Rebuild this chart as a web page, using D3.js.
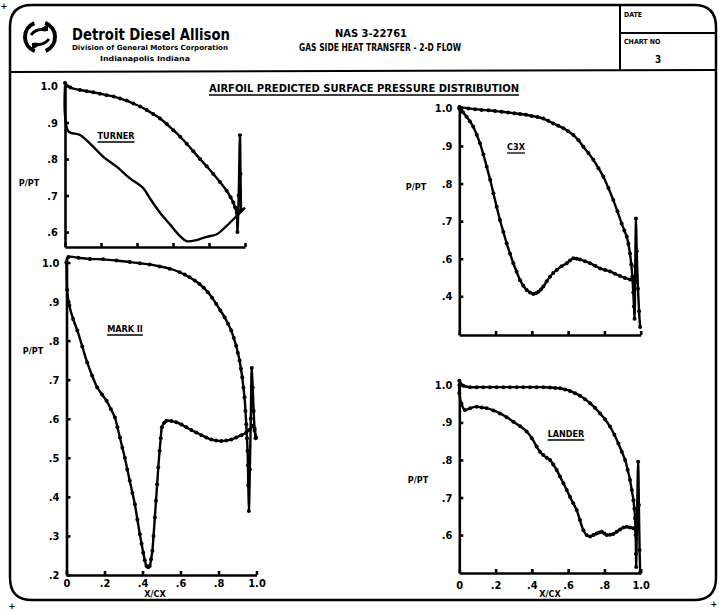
<!DOCTYPE html>
<html>
<head>
<meta charset="utf-8">
<script src="https://cdn.jsdelivr.net/npm/d3@7"></script>
<style>
  body { margin: 0; background: #fff; }
  svg text { font-family: 'DejaVu Sans Condensed', 'Liberation Sans Narrow', sans-serif; font-weight: bold; fill: #000; }
</style>
</head>
<body>
<svg id="chart"></svg>
<script>
// ---- data: [X/CX, P/PT] ----
var xTicks = [0, 0.2, 0.4, 0.6, 0.8, 1.0];
var xTickLabels = ["0", ".2", ".4", ".6", ".8", "1.0"];

var turnerTicks = [1.0, 0.9, 0.8, 0.7, 0.6];
var turnerLabels = ["1.0", ".9", ".8", ".7", ".6"];
var markTicks = [1.0, 0.9, 0.8, 0.7, 0.6, 0.5, 0.4, 0.3, 0.2];
var markLabels = ["1.0", ".9", ".8", ".7", ".6", ".5", ".4", ".3", ".2"];
var c3xTicks = [1.0, 0.9, 0.8, 0.7, 0.6, 0.5];
var c3xLabels = ["1.0", ".9", ".8", ".7", ".6", ".4"];   // printed this way on the original
var landerTicks = [1.0, 0.9, 0.8, 0.7, 0.6];
var landerLabels = ["1.0", ".9", ".8", ".7", ".6"];

// pressure side (upper curve, incl. trailing edge spike) and suction side (lower curve)
var turnerPS = [[0,1.008],[0.03,0.996],[0.083,0.989],[0.12,0.986],[0.157,0.983],[0.194,0.979],[0.231,0.975],
  [0.27,0.971],[0.306,0.966],[0.343,0.96],[0.38,0.952],[0.417,0.944],[0.454,0.934],[0.49,0.923],[0.528,0.911],
  [0.565,0.896],[0.602,0.879],[0.64,0.861],[0.676,0.842],[0.713,0.821],[0.75,0.8],[0.787,0.78],[0.824,0.759],
  [0.861,0.737],[0.898,0.713],[0.92,0.695],[0.935,0.681],[0.945,0.667],[0.954,0.653],[0.958,0.6],[0.965,0.7],
  [0.972,0.865],[0.975,0.76],[0.978,0.66]];
var turnerSS = [[0,1.0],[0,0.92],[0.02,0.875],[0.083,0.866],[0.148,0.838],[0.213,0.806],[0.287,0.779],
  [0.361,0.747],[0.435,0.72],[0.472,0.692],[0.528,0.653],[0.583,0.621],[0.639,0.589],[0.676,0.575],
  [0.731,0.578],[0.787,0.587],[0.843,0.594],[0.898,0.617],[0.954,0.644],[1.0,0.667]];

var markPS = [[0,1.0],[0.01,1.014],[0.062,1.012],[0.123,1.009],[0.193,1.008],[0.263,1.005],[0.333,1.001],
  [0.386,0.998],[0.438,0.995],[0.49,0.99],[0.543,0.984],[0.596,0.975],[0.622,0.969],[0.648,0.962],
  [0.675,0.954],[0.7,0.945],[0.722,0.935],[0.744,0.924],[0.766,0.91],[0.788,0.894],[0.81,0.877],
  [0.832,0.86],[0.85,0.843],[0.867,0.826],[0.88,0.807],[0.893,0.787],[0.902,0.768],[0.911,0.749],
  [0.918,0.728],[0.925,0.706],[0.931,0.68],[0.937,0.655],[0.942,0.62],[0.946,0.586],[0.95,0.55],
  [0.953,0.518],[0.955,0.48],[0.957,0.43],[0.96,0.364],[0.965,0.47],[0.97,0.6],[0.975,0.73],
  [0.98,0.68],[0.985,0.62],[0.99,0.575],[0.995,0.55]];
var markSS = [[0,1.0],[0.003,0.93],[0.015,0.89],[0.035,0.855],[0.057,0.826],[0.083,0.785],[0.109,0.744],
  [0.135,0.71],[0.162,0.68],[0.187,0.662],[0.211,0.646],[0.233,0.625],[0.255,0.603],[0.268,0.578],
  [0.281,0.552],[0.294,0.526],[0.307,0.5],[0.32,0.47],[0.333,0.441],[0.347,0.41],[0.36,0.381],
  [0.373,0.342],[0.386,0.304],[0.395,0.28],[0.404,0.257],[0.412,0.238],[0.421,0.223],[0.43,0.22],
  [0.438,0.223],[0.445,0.24],[0.452,0.262],[0.458,0.3],[0.465,0.347],[0.471,0.39],[0.477,0.432],
  [0.483,0.475],[0.49,0.518],[0.496,0.55],[0.502,0.578],[0.514,0.59],[0.526,0.595],[0.552,0.594],
  [0.578,0.591],[0.605,0.585],[0.631,0.578],[0.657,0.571],[0.683,0.565],[0.71,0.558],[0.736,0.552],
  [0.762,0.547],[0.788,0.544],[0.815,0.543],[0.841,0.544],[0.867,0.547],[0.893,0.552],[0.92,0.558],
  [0.946,0.565],[0.963,0.572],[0.98,0.582],[0.99,0.57],[0.998,0.552]];

var c3xPS = [[0,1.004],[0.05,1.0],[0.087,0.998],[0.123,0.996],[0.16,0.995],[0.197,0.993],[0.233,0.991],
  [0.27,0.989],[0.303,0.987],[0.335,0.985],[0.367,0.983],[0.399,0.98],[0.431,0.977],[0.463,0.973],
  [0.49,0.967],[0.518,0.96],[0.546,0.954],[0.574,0.947],[0.6,0.939],[0.629,0.929],[0.657,0.915],
  [0.684,0.898],[0.712,0.881],[0.739,0.863],[0.767,0.841],[0.794,0.818],[0.822,0.788],[0.849,0.756],
  [0.872,0.726],[0.895,0.694],[0.91,0.675],[0.923,0.659],[0.932,0.64],[0.941,0.614],[0.948,0.585],
  [0.954,0.552],[0.959,0.51],[0.963,0.473],[0.966,0.44],[0.97,0.58],[0.974,0.707],[0.978,0.62],
  [0.985,0.52],[0.991,0.46],[0.997,0.418]];
var c3xSS = [[0,1.0],[0.02,0.99],[0.04,0.978],[0.058,0.966],[0.077,0.951],[0.096,0.93],[0.114,0.907],
  [0.133,0.877],[0.151,0.845],[0.17,0.81],[0.188,0.774],[0.206,0.738],[0.224,0.703],[0.243,0.671],
  [0.261,0.641],[0.28,0.613],[0.298,0.588],[0.316,0.565],[0.335,0.543],[0.353,0.528],[0.371,0.517],
  [0.39,0.51],[0.408,0.506],[0.422,0.508],[0.436,0.512],[0.45,0.518],[0.463,0.526],[0.482,0.54],
  [0.5,0.552],[0.518,0.562],[0.537,0.57],[0.564,0.58],[0.592,0.588],[0.61,0.595],[0.629,0.601],
  [0.647,0.6],[0.665,0.598],[0.693,0.593],[0.721,0.588],[0.749,0.581],[0.776,0.574],[0.804,0.57],
  [0.831,0.566],[0.858,0.56],[0.886,0.554],[0.913,0.549],[0.941,0.545],[0.96,0.542],[0.978,0.539]];

var landerPS = [[0,1.011],[0.022,0.998],[0.059,0.994],[0.096,0.994],[0.132,0.994],[0.169,0.994],[0.206,0.994],
  [0.243,0.994],[0.279,0.994],[0.316,0.994],[0.353,0.994],[0.39,0.994],[0.426,0.994],[0.463,0.994],
  [0.5,0.993],[0.528,0.992],[0.555,0.991],[0.583,0.988],[0.61,0.984],[0.638,0.978],[0.665,0.971],
  [0.693,0.962],[0.721,0.951],[0.748,0.939],[0.776,0.924],[0.804,0.908],[0.831,0.889],[0.855,0.867],
  [0.877,0.844],[0.896,0.822],[0.914,0.8],[0.928,0.774],[0.941,0.747],[0.951,0.72],[0.96,0.693],
  [0.965,0.67],[0.969,0.645],[0.972,0.6],[0.974,0.55],[0.975,0.515],[0.98,0.65],[0.986,0.795],
  [0.99,0.68],[0.994,0.56],[0.997,0.5]];
var landerSS = [[0,1.0],[0,0.978],[0.012,0.95],[0.031,0.933],[0.06,0.938],[0.096,0.942],[0.123,0.94],
  [0.151,0.938],[0.188,0.932],[0.224,0.924],[0.261,0.914],[0.298,0.902],[0.335,0.89],[0.371,0.876],
  [0.4,0.858],[0.426,0.836],[0.445,0.822],[0.463,0.813],[0.482,0.806],[0.5,0.8],[0.518,0.788],
  [0.537,0.773],[0.555,0.756],[0.574,0.738],[0.592,0.72],[0.61,0.702],[0.628,0.685],[0.647,0.667],
  [0.665,0.64],[0.684,0.613],[0.702,0.6],[0.721,0.596],[0.739,0.6],[0.757,0.604],[0.771,0.607],
  [0.785,0.609],[0.8,0.604],[0.813,0.6],[0.831,0.601],[0.849,0.603],[0.868,0.609],[0.886,0.615],
  [0.905,0.62],[0.923,0.622],[0.941,0.62],[0.96,0.618],[0.975,0.61]];

// ---- page ----
var svgWidth = 719;
var svgHeight = 611;

var svg = d3.select("#chart")
  .attr("width", svgWidth)
  .attr("height", svgHeight);

// drawing sheet frame with rounded corners
var fL = 10, fR = 716, fT = 5, fB = 600, rad = 22;
svg.append("path")
  .attr("d", `M${fL},${fT + rad} Q${fL},${fT} ${fL + rad},${fT} H${fR - rad} Q${fR},${fT} ${fR},${fT + rad}
    V${fB - rad} Q${fR},${fB} ${fR - rad},${fB} H${fL + rad} Q${fL},${fB} ${fL},${fB - rad} Z`)
  .attr("fill", "none")
  .attr("stroke", "#000")
  .attr("stroke-width", 2.5);

// header separators
svg.append("line").attr("x1", fL).attr("y1", 72).attr("x2", fR).attr("y2", 70)
  .attr("stroke", "#000").attr("stroke-width", 2);
svg.append("line").attr("x1", 620).attr("y1", fT).attr("x2", 620).attr("y2", 70)
  .attr("stroke", "#000").attr("stroke-width", 2);
svg.append("line").attr("x1", 620).attr("y1", 33).attr("x2", fR).attr("y2", 33)
  .attr("stroke", "#000").attr("stroke-width", 2);

svg.append("text").attr("x", 624).attr("y", 17).attr("font-size", 7).text("DATE");
svg.append("text").attr("x", 624).attr("y", 44).attr("font-size", 7).text("CHART NO");
svg.append("text").attr("x", 655).attr("y", 63).attr("font-size", 10).text("3");

// corner registration marks
[[4, 6], [12, 606], [714, 604]].forEach(function (p) {
  svg.append("text").attr("x", p[0]).attr("y", p[1]).attr("font-size", 9)
    .attr("text-anchor", "middle").attr("dy", "0.35em").text("+");
});

// logo: ring with two chasing arrows
var logo = svg.append("g").attr("transform", "translate(40,37)");
var arcGen = d3.arc().innerRadius(13).outerRadius(17);
logo.append("path").attr("d", arcGen({ startAngle: 0.35, endAngle: 2.75 }));
logo.append("path").attr("d", arcGen({ startAngle: 3.5, endAngle: 5.9 }));
logo.append("path").attr("d", "M-3,-6 L8,-6 L8,-13 Z M3,6 L-8,6 L-8,13 Z");
logo.append("path").attr("d", "M-9,-2 Q-4,-9 6,-7 M9,2 Q4,9 -6,7")
  .attr("fill", "none").attr("stroke", "#000").attr("stroke-width", 3);

svg.append("text").attr("x", 72).attr("y", 40).attr("font-size", 15)
  .attr("textLength", 158).attr("lengthAdjust", "spacingAndGlyphs").text("Detroit Diesel Allison");
svg.append("text").attr("x", 72).attr("y", 50).attr("font-size", 7)
  .attr("textLength", 156).attr("lengthAdjust", "spacingAndGlyphs").text("Division of General Motors Corporation");
svg.append("text").attr("x", 100).attr("y", 61).attr("font-size", 7)
  .attr("textLength", 90).attr("lengthAdjust", "spacingAndGlyphs").text("Indianapolis Indiana");

svg.append("text").attr("x", 371).attr("y", 37).attr("font-size", 11).attr("text-anchor", "middle")
  .attr("font-weight", "normal").text("NAS 3-22761");
svg.append("text").attr("x", 380).attr("y", 51).attr("font-size", 11).attr("text-anchor", "middle")
  .attr("textLength", 162).attr("lengthAdjust", "spacingAndGlyphs").text("GAS SIDE HEAT TRANSFER - 2-D FLOW");

// chart title, underlined
svg.append("text").attr("x", 364).attr("y", 92).attr("font-size", 10).attr("text-anchor", "middle")
  .attr("textLength", 310).attr("lengthAdjust", "spacingAndGlyphs")
  .text("AIRFOIL PREDICTED SURFACE PRESSURE DISTRIBUTION");
svg.append("line").attr("x1", 209).attr("x2", 519).attr("y1", 95).attr("y2", 95)
  .attr("stroke", "#000").attr("stroke-width", 1.5);

// ---- one panel per airfoil ----
var panels = [
  { name: "TURNER", ps: turnerPS, ss: turnerSS, ssDots: false, x0: 65, x1: 245,
    yDomain: [0.559, 1.011], yRange: [247, 82], yTicks: turnerTicks, yLabels: turnerLabels,
    xLabels: null, label: [116, 139], pLabel: [29, 186] },
  { name: "MARK II", ps: markPS, ss: markSS, ssDots: true, x0: 66.5, x1: 256.5,
    yDomain: [0.2, 1.014], yRange: [575, 257], yTicks: markTicks, yLabels: markLabels,
    xLabels: xTickLabels, xPad: 4, xTitle: [155, 597], label: [125, 332], pLabel: [33, 354] },
  { name: "C3X", ps: c3xPS, ss: c3xSS, ssDots: true, x0: 459.3, x1: 640.7,
    yDomain: [0.397, 1.009], yRange: [335, 105], yTicks: c3xTicks, yLabels: c3xLabels,
    xLabels: null, label: [516, 150], pLabel: [416, 190] },
  { name: "LANDER", ps: landerPS, ss: landerSS, ssDots: true, x0: 459.3, x1: 640.7,
    yDomain: [0.499, 1.013], yRange: [573, 380], yTicks: landerTicks, yLabels: landerLabels,
    xLabels: xTickLabels, xPad: 8, xTitle: [550, 597], label: [566, 437], pLabel: [418, 483] }
];

panels.forEach(function (p) {
  var xScale = d3.scaleLinear().domain([0, 1]).range([p.x0, p.x1]);
  var yScale = d3.scaleLinear().domain(p.yDomain).range(p.yRange);
  var g = svg.append("g");

  var leftAxis = d3.axisLeft(yScale)
    .tickValues(p.yTicks)
    .tickFormat(function (d, i) { return p.yLabels[i]; })
    .tickSize(-4).tickSizeOuter(0).tickPadding(7);
  var bottomAxis = d3.axisBottom(xScale)
    .tickValues(xTicks)
    .tickFormat(function (d, i) { return p.xLabels ? p.xLabels[i] : ""; })
    .tickSize(-4).tickSizeOuter(0).tickPadding(p.xPad || 3);

  var yAx = g.append("g").attr("transform", `translate(${p.x0},0)`).call(leftAxis);
  var xAx = g.append("g").attr("transform", `translate(0,${yScale(p.yDomain[0])})`).call(bottomAxis);
  [yAx, xAx].forEach(function (ax) {
    ax.selectAll("path, line").attr("stroke", "#000").attr("stroke-width", 2.6);
    ax.selectAll("text").attr("font-size", 11).attr("fill", "#000");
  });

  var line = d3.line()
    .x(d => xScale(d[0]))
    .y(d => yScale(d[1]))
    .curve(d3.curveCatmullRom.alpha(0.5));

  [[p.ps, true], [p.ss, p.ssDots]].forEach(function (s) {
    g.append("path").datum(s[0])
      .attr("d", line)
      .attr("fill", "none")
      .attr("stroke", "#000")
      .attr("stroke-width", 2.4)
      .attr("stroke-linejoin", "round");
    if (s[1]) {
      g.selectAll(null).data(s[0]).enter().append("circle")
        .attr("cx", d => xScale(d[0]))
        .attr("cy", d => yScale(d[1]))
        .attr("r", 2);
    }
  });

  // airfoil name, underlined
  var t = g.append("text").attr("x", p.label[0]).attr("y", p.label[1])
    .attr("font-size", 9).attr("text-anchor", "middle").text(p.name);
  var w = t.node().getComputedTextLength();
  g.append("line").attr("x1", p.label[0] - w / 2).attr("x2", p.label[0] + w / 2)
    .attr("y1", p.label[1] + 3).attr("y2", p.label[1] + 3)
    .attr("stroke", "#000").attr("stroke-width", 1.3);

  g.append("text").attr("x", p.pLabel[0]).attr("y", p.pLabel[1])
    .attr("font-size", 9).attr("text-anchor", "middle").text("P/PT");

  if (p.xTitle) {
    g.append("text").attr("x", p.xTitle[0]).attr("y", p.xTitle[1])
      .attr("font-size", 9).attr("text-anchor", "middle").text("X/CX");
  }
});
</script>
</body>
</html>
